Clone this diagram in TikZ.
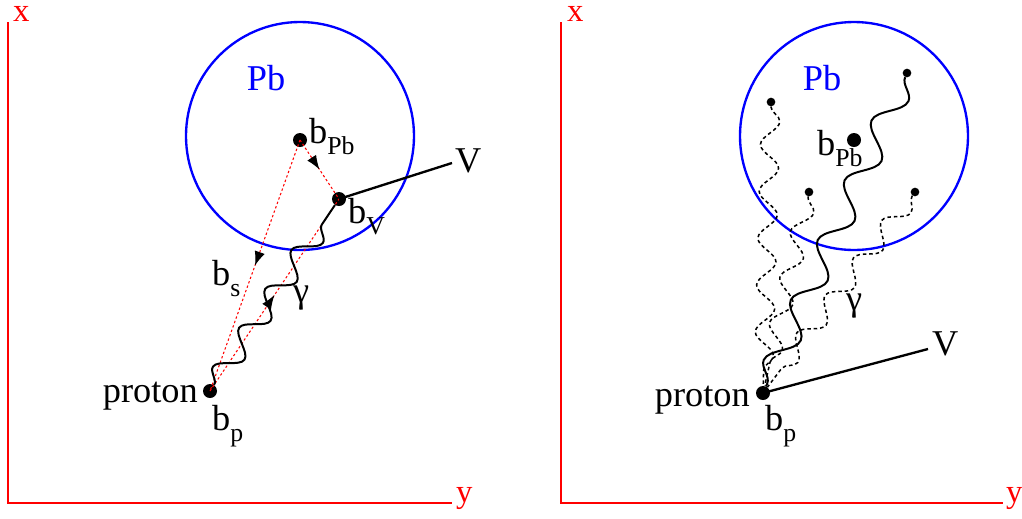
\documentclass[tikz,border=0pt]{standalone}
\usepackage{fontspec}
\setmainfont{Liberation Serif}
\usetikzlibrary{arrows.meta,decorations.pathmorphing,decorations.markings}
\newcommand{\lowsub}[1]{\raisebox{-10pt}{\fontsize{22}{24}\selectfont #1}}

\begin{document}
\begin{tikzpicture}[x=0.03cm, y=-0.03cm,
    every node/.style={font=\fontsize{31}{34}\selectfont, inner sep=0pt},
    axis/.style={red, line width=1pt},
    axislabel/.style={red, anchor=base west, font=\fontsize{28}{30}\selectfont},
    nucleus/.style={blue, line width=2pt},
    bigdot/.style={circle, fill=black, minimum size=0.42cm},
    smalldot/.style={circle, fill=black, minimum size=0.26cm},
    impact/.style={red, line width=0.9pt, dash pattern=on 2pt off 2pt,
        postaction={decorate}, decoration={markings,
        mark=at position 0.5 with {\arrow[black]{Latex[length=12pt,width=9pt]}}}},
    photon/.style={line width=1.7pt, decorate,
        decoration={snake, amplitude=9.5pt, segment length=40pt, post length=2pt}},
    hardphoton/.style={line width=1.7pt, decorate,
        decoration={snake, amplitude=11pt, segment length=56pt, post length=2pt}},
    softphoton/.style={line width=1.3pt, dash pattern=on 3pt off 2.5pt, decorate,
        decoration={snake, amplitude=8pt, segment length=40pt, post length=2pt}},
    meson/.style={line width=2pt}]
    \useasboundingbox (0,0) rectangle (1022,518);

    % left: coherent photon from the proton
    \coordinate (o1) at (8,503);
    \draw[axis] (8,22) -- (o1) -- (452,503);
    \node[axislabel] (x1) at (13,21) {x};
    \node[axislabel] (y1) at (456,502) {y};
    \draw[nucleus] (300,136) circle (114);
    \node[blue] (pb1) at (266,78) {Pb};

    \node (bpb1) at (300,140) [bigdot] {};
    \node (bv1) at (339,199) [bigdot] {};
    \node (pr1) at (210,391) [bigdot] {};
    \coordinate (v1) at (452,163);

    \draw[impact] (bpb1.center) -- (pr1.center);
    \draw[impact] (bpb1.center) -- (bv1.center);
    \draw[impact] (pr1.center) -- (bv1.center);
    \draw[photon] (pr1) -- (bv1);
    \draw[meson] (bv1.center) -- (v1);

    \node[anchor=base west] (lbpb1) at (309,143) {b\lowsub{Pb}};
    \node[anchor=base west] (lbv1) at (348,223) {b\lowsub{V}};
    \node[anchor=base west] (lv1) at (455,172) {V};
    \node[anchor=base west] (lbs1) at (212,285) {b\lowsub{s}};
    \node[anchor=base west] (lg1) at (293,302) {γ};
    \node[anchor=base east] (lpr1) at (198,402) {proton};
    \node[anchor=base west] (lbp1) at (212,430) {b\lowsub{p}};

    % right: photons from several nucleons
    \coordinate (o2) at (561,503);
    \draw[axis] (561,22) -- (o2) -- (1003,503);
    \node[axislabel] (x2) at (567,21) {x};
    \node[axislabel] (y2) at (1006,502) {y};
    \draw[nucleus] (854,136) circle (114);
    \node[blue] (pb2) at (822,78) {Pb};

    \node (bpb2) at (854,140) [bigdot] {};
    \node (pr2) at (763,393) [bigdot] {};
    \node (n1) at (771,102) [smalldot] {};
    \node (n2) at (907,73) [smalldot] {};
    \node (n3) at (809,192) [smalldot] {};
    \node (n4) at (915,192) [smalldot] {};
    \coordinate (v2) at (928,349);

    \draw[softphoton] (n1) -- (pr2);
    \draw[softphoton] (n3) -- (pr2);
    \draw[softphoton] (n4) -- (pr2);
    \draw[hardphoton] (n2) -- (pr2);
    \draw[meson] (pr2.center) -- (v2);

    \node[anchor=base west] (lbpb2) at (817,155) {b\lowsub{Pb}};
    \node[anchor=base west] (lv2) at (932,355) {V};
    \node[anchor=base west] (lg2) at (846,310) {γ};
    \node[anchor=base east] (lpr2) at (750,406) {proton};
    \node[anchor=base west] (lbp2) at (765,430) {b\lowsub{p}};
\end{tikzpicture}
\end{document}
